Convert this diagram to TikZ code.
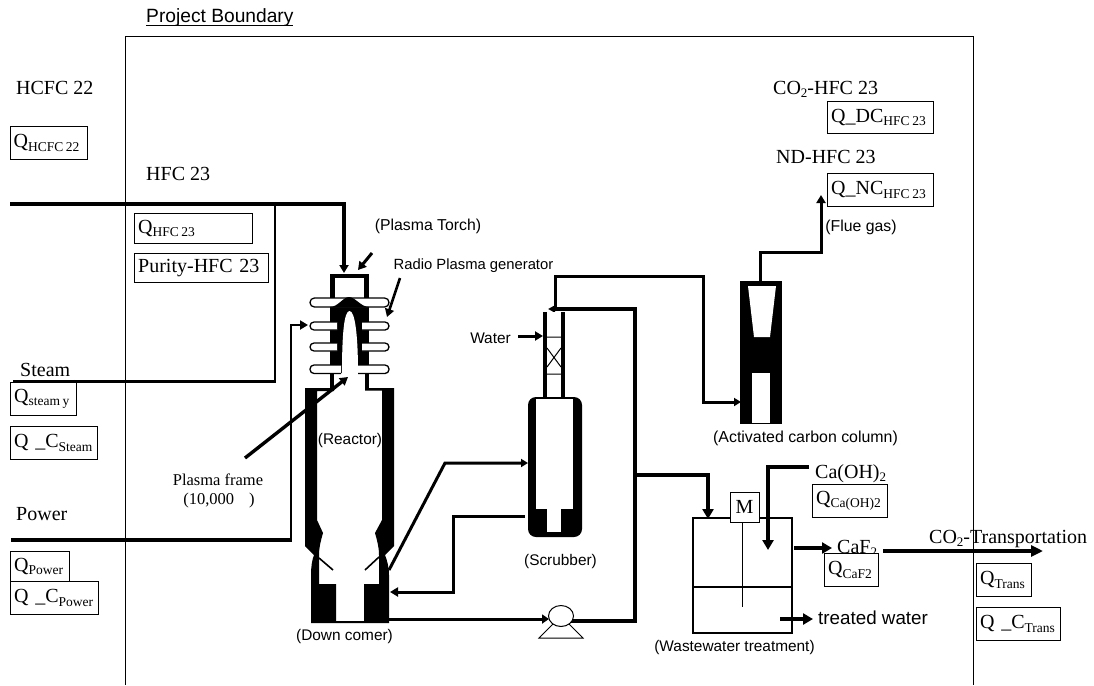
\documentclass[tikz,border=0pt]{standalone}
\usepackage{fontspec}
\setmainfont{Liberation Serif}
\newfontfamily\arialf{Liberation Sans}
\usetikzlibrary{arrows.meta}
\newcommand{\sbt}[1]{\raisebox{-3.5pt}{\fontsize{13.5}{14}\selectfont #1}}
\newcommand{\sbo}[1]{\raisebox{-3.5pt}{\fontsize{13}{14}\selectfont #1}}
\newcommand{\nsp}{\hspace{2.6pt}}
\tikzset{
  serif/.style={anchor=base west,inner sep=0pt,font=\fontsize{20}{22}\selectfont},
  sans/.style={anchor=center,inner sep=0pt,font=\arialf\fontsize{15.4}{17}\selectfont},
  qbox/.style={draw=black,line width=0.9pt,fill=white,anchor=north west,inner xsep=0pt,inner ysep=0pt,
     font=\fontsize{20}{22}\selectfont,align=left},
  flow/.style={line width=3.4pt,draw=black,-{Triangle[length=8pt,width=9pt]}},
  heavy/.style={line width=4pt,draw=black,-{Triangle[length=10pt,width=11pt]}},
  fin/.style={draw=black,line width=1.3pt,fill=white},
  solid part/.style={fill=black,draw=none},
}
\newcommand{\qbox}[6]{% name, x1,y1,x2,y2, text
  \node[qbox,minimum width=#4pt-#2pt,minimum height=#5pt-#3pt,text width=#4pt-#2pt-2.5pt] (#1) at (#2,#3) {\hspace*{2.5pt}#6};}
\begin{document}
\begin{tikzpicture}[x=1pt,y=-1pt]
\useasboundingbox (0,0) rectangle (1094,685);
\fill[white] (0,0) rectangle (1094,685);
% named points
\coordinate (bTL) at (125,37); \coordinate (bTR) at (973,37);
\coordinate (bBL) at (125,685); \coordinate (bBR) at (973,685);
\coordinate (hfcIn) at (10,204); \coordinate (torchTop) at (344,273);
\coordinate (steamIn) at (13,381.5); \coordinate (steamUp) at (275,204);
\coordinate (powerIn) at (11,540); \coordinate (fin2L) at (308,325); \coordinate (powerUp) at (291,325);
\coordinate (plA) at (245,458); \coordinate (plB) at (348,377);
\coordinate (ptA) at (372,253); \coordinate (ptB) at (358,270);
\coordinate (rgA) at (400,278); \coordinate (rgB) at (387,317);
\coordinate (dcOut) at (389,570); \coordinate (k1) at (445,463); \coordinate (scIn) at (528,463);
\coordinate (scOut) at (525,516); \coordinate (k2) at (453,516); \coordinate (k3) at (453,592); \coordinate (dcIn) at (390,592);
\coordinate (dcBot) at (389,619); \coordinate (pumpIn) at (549,619);
\coordinate (pumpOut) at (571,621); \coordinate (k4) at (635,621); \coordinate (k5) at (635,309); \coordinate (colTop) at (548,309);
\coordinate (k6) at (555,309); \coordinate (k7) at (555,276); \coordinate (k8) at (703,276); \coordinate (k9) at (703,402); \coordinate (acIn) at (741,402);
\coordinate (acTop) at (760,281); \coordinate (k10) at (760,252); \coordinate (k11) at (821,252); \coordinate (flueTip) at (821,195);
\coordinate (wA) at (518,336); \coordinate (wB) at (543,336);
\coordinate (k12) at (635,475); \coordinate (k13) at (708,475); \coordinate (tankTop) at (708,519);
\coordinate (caA) at (809,467); \coordinate (k14) at (768,467); \coordinate (caB) at (768,550);
\coordinate (cfA) at (794,548); \coordinate (cfB) at (832,548);
\coordinate (trA) at (883,551); \coordinate (trB) at (1043,551);
\coordinate (twA) at (780,619); \coordinate (twB) at (813,619);
% boundary
\draw[line width=1pt] (bBL) -- (bTL) -- (bTR) -- (bBR);
% pipes
\draw[flow] (hfcIn) -| (torchTop);
\draw[line width=2.8pt] (steamIn) -| (steamUp);
\draw[line width=3.2pt] (powerIn) -- (291,540);
\draw[line width=2.8pt,-{Triangle[length=8pt,width=9pt]}] (291,541.5) -- (powerUp) -- (fin2L);
% torch
\fill[solid part] (330,274) rectangle (369,373);
\fill[white] (335,278) rectangle (364,300);
\draw[fin,rounded corners=4.4pt] (310,298) rectangle (389,307);
\fill[solid part] (330,307) .. controls (338,307) and (343,297) .. (349,297) .. controls (355,297) and (361,307) .. (369,307) -- cycle;
\fill[white] (342,373) .. controls (342,335) and (344,311) .. (349.5,311) .. controls (355,311) and (358,335) .. (358,373) -- cycle;
\foreach \ya/\yb/\xa/\xb in {322/330/337/362,343/351/337/362,365/373.5/341/358}{
  \draw[fin] (\xa,\ya) [rounded corners=4pt] -- (310,\ya) -- (310,\yb) [sharp corners] -- (\xa,\yb);
  \draw[fin] (\xb,\ya) [rounded corners=4pt] -- (389,\ya) -- (389,\yb) [sharp corners] -- (\xb,\yb);
}
\fill[solid part] (330,373.5) rectangle (334,388);
\fill[solid part] (365,373.5) rectangle (369,388);
% reactor + down comer
\fill[solid part] (305,388) -- (305,546) -- (314,555) .. controls (312,560) and (311,567) .. (311,575) -- (311,623) -- (389,623)
  -- (389,575) .. controls (389,567) and (387,560) .. (385,555) -- (394,546) -- (394,388) -- (365,388) -- (365,390.5) -- (382,390.5)
  -- (382,520) -- (375,533) .. controls (377,540) and (379,547) .. (379,555) -- (379,584) -- (364,584) -- (364,621) -- (336,621)
  -- (336,584) -- (319,584) -- (319,555) .. controls (319,547) and (321,540) .. (323,533) -- (317,520) -- (317,391) -- (334,391) -- (334,388) -- cycle;
\draw[line width=1.6pt] (319,558) -- (333,570);
\draw[line width=1.6pt] (379,557) -- (365,570);
% plasma arrows
\draw[flow] (plA) -- (plB);
\draw[flow,line width=3pt] (ptA) -- (ptB);
\draw[flow,line width=2.6pt] (rgA) -- (rgB);
% reactor - scrubber
\draw[line width=3pt,-{Triangle[length=7pt,width=8pt]}] (dcOut) -- (k1) -- (scIn);
\draw[line width=3pt,-{Triangle[length=8pt,width=9pt]}] (scOut) -- (k2) -- (k3) -- (dcIn);
\draw[line width=3pt,-{Triangle[length=7pt,width=9pt]}] (dcBot) -- (pumpIn);
\draw[line width=3.4pt] (pumpOut) -- (k4) -- (k5) -- (k6);
\draw[line width=3pt,-{Triangle[length=7pt,width=7pt]}] (k5) -- (colTop);
\draw[line width=3pt,-{Triangle[length=7pt,width=8pt]}] (k6) -- (k7) -- (k8) -- (k9) -- (acIn);
% pump
\draw[line width=1pt] (539,638) -- (583,638) -- (561,616) -- cycle;
\draw[line width=1pt,fill=white] (561,616) ellipse [x radius=12.5,y radius=10.5];
% scrubber column
\fill[solid part] (543,312) rectangle (565,398);
\fill[white] (547,312) rectangle (561,398);
\draw[line width=1pt] (547,337) -- (561,337) (547,374) -- (561,374) (547,348) -- (561,367) (561,348) -- (547,367);
\draw[flow,line width=3pt] (wA) -- (wB);
% scrubber body
\fill[solid part,rounded corners=8pt] (528,397) rectangle (582,537);
\fill[white] (536,399) rectangle (573,509);
\fill[white] (547,509) rectangle (561,532);
% activated carbon
\fill[solid part] (740,281) rectangle (782,424);
\fill[white] (748,286) -- (776,286) -- (770,337) -- (754,337) -- cycle;
\fill[white] (752,373) rectangle (770,423);
\draw[flow,line width=3pt] (acTop) -- (k10) -- (k11) -- (flueTip);
% tank
\draw[line width=1.3pt] (693,518) rectangle (792,633);
\draw[line width=1.2pt] (694,587) -- (791,587);
\draw[line width=2.2pt] (792,587) -- (792,633) -- (693,633);
\draw[line width=1pt] (742,522) -- (742,607);
\draw[heavy,line width=3.4pt] (k12) -- (k13) -- (tankTop);
\draw[heavy,line width=3.4pt] (caA) -- (k14) -- (caB);
\draw[heavy] (cfA) -- (cfB);
\draw[heavy] (twA) -- (twB);
\node[draw=black,line width=1pt,fill=white,minimum width=29pt,minimum height=30pt,inner sep=0pt,font=\fontsize{20}{22}\selectfont] (motor) at (744.5,507) {M};
\draw[heavy,-{Triangle[length=12pt,width=11pt]}] (trA) -- (trB);
% labels
\node[sans,font=\arialf\fontsize{19.2}{21}\selectfont,anchor=base west] (pb) at (146,23) {Project Boundary};
\draw[line width=1pt] (pb.base west) ++(0,2.5) -- ++(147,0);
\node[serif] (hcfc) at (16,94) {HCFC 22};
\node[serif] (hfc) at (146,180) {HFC 23};
\node[serif] (steam) at (20,376) {Steam};
\node[serif] (power) at (16,520) {Power};
\node[serif] (co2hfc) at (773,94) {CO\sbo{2}-HFC 23};
\node[serif] (ndhfc) at (776,163) {ND-HFC 23};
\node[serif] (caoh) at (815,478) {Ca(OH)\sbo{2}};
\node[serif] (caf) at (837,553) {CaF\sbo{2}};
\node[serif] (co2tr) at (929,543) {CO\sbo{2}-Transportation};
\node[serif,font=\fontsize{16.5}{18}\selectfont,anchor=center] (pf) at (218,480) {Plasma frame};
\node[serif,font=\fontsize{16.5}{18}\selectfont,anchor=center] (pf2) at (219,501) {(10,000\hspace{15pt})};
\node[sans,font=\arialf\fontsize{15.8}{17}\selectfont] (lpt) at (428,226) {(Plasma Torch)};
\node[sans,font=\arialf\fontsize{14.8}{16}\selectfont] (lrp) at (473.5,266) {Radio Plasma generator};
\node[sans] (lre) at (350,441) {(Reactor)};
\node[sans] (ldc) at (344.5,637) {(Down comer)};
\node[sans] (lsc) at (560.5,562) {(Scrubber)};
\node[sans] (lwa) at (490.5,338) {Water};
\node[sans,font=\arialf\fontsize{15.9}{17}\selectfont] (lac) at (805.5,438) {(Activated carbon column)};
\node[sans] (lww) at (734.5,648) {(Wastewater treatment)};
\node[sans,font=\arialf\fontsize{15.8}{17}\selectfont] (lfg) at (861,227) {(Flue gas)};
\node[sans,font=\arialf\fontsize{18.8}{20}\selectfont,anchor=west] (ltw) at (818,618) {treated water};
% boxes
\qbox{b1}{9.5}{126}{87}{159}{Q\sbt{HCFC\nsp 22}}
\qbox{b2}{134}{213}{252}{243}{Q\sbt{HFC\nsp 23}}
\qbox{b3}{134}{253}{268}{282}{Purity-HFC 23}
\qbox{b4}{10}{382}{76}{415}{Q\sbt{steam\nsp y}}
\qbox{b5}{10}{426}{97}{459}{Q \_C\sbt{Steam}}
\qbox{b6}{10}{551}{69}{581}{Q\sbt{Power}}
\qbox{b7}{10}{581}{98}{614}{Q \_C\sbt{Power}}
\qbox{b8}{827}{101}{933}{133}{Q\_DC\sbt{HFC\nsp 23}}
\qbox{b9}{827}{173}{933}{206}{Q\_NC\sbt{HFC\nsp 23}}
\qbox{b10}{812}{484}{887}{517}{Q\sbt{Ca(OH)2}}
\qbox{b11}{824}{553}{878}{586}{Q\sbt{CaF2}}
\qbox{b12}{976}{563}{1031}{596}{Q\sbt{Trans}}
\qbox{b13}{976}{607}{1060}{640}{Q \_C\sbt{Trans}}
\end{tikzpicture}
\end{document}
